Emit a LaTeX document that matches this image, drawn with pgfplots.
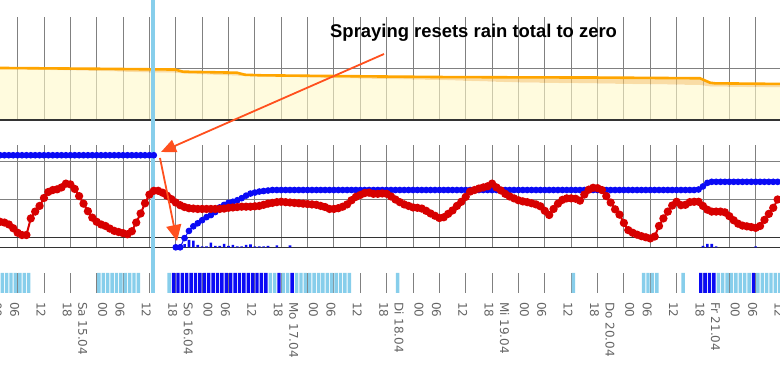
\documentclass[border=0pt]{standalone}
\usepackage{pgfplots}
\pgfplotsset{compat=1.18}
\usetikzlibrary{arrows.meta}
\usepackage{fontspec}
\setmainfont{Liberation Sans}
\newfontfamily\labfont{DejaVu Sans}
\definecolor{gridgray}{RGB}{128,128,128}
\definecolor{axisdark}{RGB}{51,51,51}
\definecolor{orangeline}{RGB}{255,165,0}
\definecolor{bandfill}{RGB}{245,197,105}
\definecolor{yellowfill}{RGB}{255,248,200}
\definecolor{rainblue}{RGB}{10,10,245}
\definecolor{tempred}{RGB}{215,0,0}
\definecolor{skyb}{RGB}{135,206,235}
\definecolor{arrowred}{RGB}{255,80,30}
\definecolor{ticktext}{RGB}{100,100,100}
\pgfplotsset{panel/.style={scale only axis, width=780bp, height=381bp,
  xmin=1.99, xmax=179.54, hide axis, clip=false}}
\tikzset{gridline/.style={gridgray, line width=0.9bp},
  darkline/.style={axisdark, line width=1.3bp},
  lab/.style={rotate=-90, anchor=west, inner sep=0pt, text=ticktext, align=left,
    font=\labfont\fontsize{12}{20}\selectfont, overlay}}
\begin{document}
\begin{tikzpicture}
% ---------- top panel (percent) ----------
\begin{axis}[panel, ymin=-253.40, ymax=116.50]
\path (rel axis cs:0,0) rectangle (rel axis cs:1,1);
\pgfplotsinvokeforeach{6,12,...,174}{\draw[gridline] (axis cs:#1,0) -- (axis cs:#1,100);}
\draw[gridline] (axis cs:1.99,50) -- (axis cs:179.54,50);
\addplot[draw=none, fill=bandfill, fill opacity=0.6] coordinates {(1.99,50.5) (24.75,49.7) (36.13,49.2) (41.82,49.0) (43.64,46.9) (55.94,45.9) (57.76,43.9) (61.17,43.4) (77.11,42.7) (102.15,41.7) (120.36,41.4) (138.57,41.2) (161.33,40.5) (163.61,36.2) (164.75,35.6) (179.54,35.0) (179.54,31.6) (163.61,32.5) (161.33,34.0) (138.57,35.4) (120.36,36.4) (102.15,38.8) (77.11,40.8) (57.76,42.7) (43.64,45.1) (41.82,45.9) (36.13,46.1) (24.75,47.6) (1.99,49.5)};
\addplot[draw=none, fill=yellowfill, fill opacity=0.6] coordinates {(1.99,49.5) (24.75,47.6) (36.13,46.1) (41.82,45.9) (43.64,45.1) (57.76,42.7) (77.11,40.8) (102.15,38.8) (120.36,36.4) (138.57,35.4) (161.33,34.0) (163.61,32.5) (179.54,31.6) (179.54,0) (1.99,0)};
\addplot[orangeline, line width=2.6bp] coordinates {(1.99,50.5) (24.75,49.7) (36.13,49.2) (41.82,49.0) (43.64,46.9) (55.94,45.9) (57.76,43.9) (61.17,43.4) (77.11,42.7) (102.15,41.7) (120.36,41.4) (138.57,41.2) (161.33,40.5) (163.61,36.2) (164.75,35.6) (179.54,35.0)};
\draw[darkline] (axis cs:1.99,0) -- (axis cs:179.54,0);
\end{axis}
% ---------- middle panel: grid + spray line (temperature scale) ----------
\begin{axis}[panel, ymin=-38.016, ymax=62.778]
\path (rel axis cs:0,0) rectangle (rel axis cs:1,1);
\pgfplotsinvokeforeach{6,12,...,174}{\draw[gridline] (axis cs:#1,-2.65) -- (axis cs:#1,24.42);}
\draw[gridline] (axis cs:1.99,10) -- (axis cs:179.54,10);
\draw[gridline] (axis cs:1.99,20) -- (axis cs:179.54,20);
\draw[darkline] (axis cs:1.99,0) -- (axis cs:179.54,0);
\draw[darkline] (axis cs:1.99,-2.65) -- (axis cs:179.54,-2.65);
\draw[skyb, line width=4bp] (axis cs:36.93,-14.735) -- (axis cs:36.93,62.778);
\end{axis}
% ---------- middle panel: rain (mm) ----------
\begin{axis}[panel, ymin=-26.139, ymax=48.348]
\path (rel axis cs:0,0) rectangle (rel axis cs:1,1);
\addplot[ybar, bar width=2.6bp, fill=rainblue, draw=none] coordinates {(44,0.6) (45,1.43) (46,1.31) (47,0.45) (48,0.2) (49,0.2) (50,0.92) (51,0.29) (52,0.29) (53,0.65) (54,0.29) (55,0.45) (56,0.2) (57,0.2) (58,0.45) (59,0.59) (60,0.2) (61,0.2) (62,0.2) (63,0.29) (65,0.39) (68,0.39) (162,0.29) (163,0.65) (164,0.65) (165,0.2) (174,0.2)};
\addplot[rainblue, line width=1bp, mark=*, mark size=2.8bp, mark options={fill=rainblue, draw=rainblue}] coordinates {(2,18) (3,18) (4,18) (5,18) (6,18) (7,18) (8,18) (9,18) (10,18) (11,18) (12,18) (13,18) (14,18) (15,18) (16,18) (17,18) (18,18) (19,18) (20,18) (21,18) (22,18) (23,18) (24,18) (25,18) (26,18) (27,18) (28,18) (29,18) (30,18) (31,18) (32,18) (33,18) (34,18) (35,18) (36,18) (37,18)};
\addplot[rainblue, line width=1bp, mark=*, mark size=2.8bp, mark options={fill=rainblue, draw=rainblue}] coordinates {(42,0) (43,0) (44,1.8) (45,3.2) (46,4.1) (47,4.7) (48,5.3) (49,5.9) (50,6.3) (51,6.9) (52,7.8) (53,8.3) (54,8.7) (55,8.9) (56,9.2) (57,9.6) (58,10.1) (59,10.5) (60,10.7) (61,10.9) (62,11.0) (63,11.1) (64,11.2) (65,11.2) (66,11.2) (67,11.2) (68,11.2) (69,11.2) (70,11.2) (71,11.2) (72,11.2) (73,11.2) (74,11.2) (75,11.2) (76,11.2) (77,11.2) (78,11.2) (79,11.2) (80,11.2) (81,11.2) (82,11.2) (83,11.2) (84,11.2) (85,11.2) (86,11.2) (87,11.2) (88,11.2) (89,11.2) (90,11.2) (91,11.2) (92,11.2) (93,11.2) (94,11.2) (95,11.2) (96,11.2) (97,11.2) (98,11.2) (99,11.2) (100,11.2) (101,11.2) (102,11.2) (103,11.2) (104,11.2) (105,11.2) (106,11.2) (107,11.2) (108,11.2) (109,11.2) (110,11.2) (111,11.2) (112,11.2) (113,11.2) (114,11.2) (115,11.2) (116,11.2) (117,11.2) (118,11.2) (119,11.2) (120,11.2) (121,11.2) (122,11.2) (123,11.2) (124,11.2) (125,11.2) (126,11.2) (127,11.2) (128,11.2) (129,11.2) (130,11.2) (131,11.2) (132,11.2) (133,11.2) (134,11.2) (135,11.2) (136,11.2) (137,11.2) (138,11.2) (139,11.2) (140,11.2) (141,11.2) (142,11.2) (143,11.2) (144,11.2) (145,11.2) (146,11.2) (147,11.2) (148,11.2) (149,11.2) (150,11.2) (151,11.2) (152,11.2) (153,11.2) (154,11.2) (155,11.2) (156,11.2) (157,11.2) (158,11.2) (159,11.2) (160,11.2) (161,11.3) (162,11.9) (163,12.6) (164,12.8) (165,12.8) (166,12.8) (167,12.8) (168,12.8) (169,12.8) (170,12.8) (171,12.8) (172,12.8) (173,12.8) (174,12.8) (175,12.8) (176,12.8) (177,12.8) (178,12.8) (179,12.8)};
\end{axis}
% ---------- middle panel: temperature ----------
\begin{axis}[panel, ymin=-38.016, ymax=62.778]
\path (rel axis cs:0,0) rectangle (rel axis cs:1,1);
\addplot[tempred, line width=2bp, mark=*, mark size=3.1bp, mark options={fill=tempred, draw=tempred}] coordinates {(2,4.1)(3,3.9)(4,3.4)(5,2.4)(6,1.2)(7,0.6)(8,0.6)(9,5.0)(10,6.8)(11,8.3)(12,10.4)(13,12.0)(14,12.5)(15,12.7)(16,13.2)(17,14.2)(18,14.0)(19,12.8)(20,10.9)(21,8.9)(22,6.9)(23,5.2)(24,4.1)(25,3.4)(26,3.0)(27,2.3)(28,1.7)(29,1.4)(30,1.1)(31,0.8)(32,1.6)(33,3.9)(34,6.3)(35,9.0)(36,11.3)(37,12.3)(38,12.3)(39,11.8)(40,11.0)(41,10.1)(42,9.2)(43,8.5)(44,8.0)(45,7.7)(46,7.6)(47,7.5)(48,7.5)(49,7.5)(50,7.5)(51,7.5)(52,7.5)(53,7.6)(54,7.8)(55,7.9)(56,8.0)(57,8.1)(58,8.1)(59,8.1)(60,8.2)(61,8.3)(62,8.6)(63,8.9)(64,9.1)(65,9.3)(66,9.4)(67,9.3)(68,9.2)(69,9.1)(70,9.0)(71,8.9)(72,8.8)(73,8.7)(74,8.6)(75,8.3)(76,8.0)(77,7.5)(78,7.5)(79,7.7)(80,8.1)(81,8.7)(82,9.8)(83,10.7)(84,11.2)(85,11.7)(86,11.8)(87,11.5)(88,11.5)(89,11.6)(90,11.5)(91,10.8)(92,10.0)(93,9.3)(94,8.7)(95,8.3)(96,7.9)(97,7.8)(98,7.6)(99,7.0)(100,6.3)(101,5.7)(102,5.1)(103,5.3)(104,6.2)(105,7.1)(106,8.3)(107,9.4)(108,10.7)(109,12.1)(110,12.5)(111,12.9)(112,13.2)(113,13.5)(114,14.2)(115,13.2)(116,12.4)(117,11.5)(118,10.8)(119,10.3)(120,9.8)(121,9.5)(122,9.3)(123,9.0)(124,8.7)(125,8.2)(126,7.0)(127,5.9)(128,7.5)(129,8.9)(130,9.9)(131,10.3)(132,10.3)(133,10.2)(134,9.7)(135,11.3)(136,12.6)(137,13.1)(138,13.0)(139,12.5)(140,10.9)(141,9.2)(142,7.4)(143,6.0)(144,3.8)(145,1.9)(146,1.2)(147,0.7)(148,0.3)(149,0.0)(150,-0.3)(151,0.2)(152,3.0)(153,5.0)(154,6.8)(155,8.4)(156,9.4)(157,8.5)(158,8.6)(159,9.3)(160,9.4)(161,9.4)(162,8.3)(163,7.3)(164,6.8)(165,6.8)(166,6.8)(167,6.6)(168,5.6)(169,4.5)(170,3.6)(171,3.1)(172,2.9)(173,2.7)(174,2.5)(175,3.0)(176,4.6)(177,6.2)(178,7.8)(179,10.0)};
\end{axis}
% ---------- bottom strip (wet hours) ----------
\begin{axis}[panel, ymin=-4.4, ymax=14.65]
\path (rel axis cs:0,0) rectangle (rel axis cs:1,1);
\pgfplotsinvokeforeach{6,12,...,174}{\draw[gridline] (axis cs:#1,0) -- (axis cs:#1,1);}
\addplot[ybar, bar width=3.4bp, fill=skyb, draw=none] coordinates {(2.5,1)(3.5,1)(4.5,1)(5.5,1)(6.5,1)(7.5,1)(8.5,1)(24.5,1)(25.5,1)(26.5,1)(27.5,1)(28.5,1)(29.5,1)(30.5,1)(31.5,1)(32.5,1)(33.5,1)(40.5,1)(63.5,1)(64.5,1)(66.5,1)(67.5,1)(69.5,1)(70.5,1)(71.5,1)(72.5,1)(73.5,1)(74.5,1)(75.5,1)(76.5,1)(77.5,1)(78.5,1)(79.5,1)(80.5,1)(81.5,1)(92.5,1)(132.5,1)(148.5,1)(149.5,1)(150.5,1)(151.5,1)(157.5,1)(165.5,1)(166.5,1)(167.5,1)(168.5,1)(169.5,1)(170.5,1)(171.5,1)(172.5,1)(174.5,1)(175.5,1)(176.5,1)(177.5,1)(178.5,1)(179.5,1)};
\addplot[ybar, bar width=3.4bp, fill=rainblue, draw=none] coordinates {(41.5,1)(42.5,1)(43.5,1)(44.5,1)(45.5,1)(46.5,1)(47.5,1)(48.5,1)(49.5,1)(50.5,1)(51.5,1)(52.5,1)(53.5,1)(54.5,1)(55.5,1)(56.5,1)(57.5,1)(58.5,1)(59.5,1)(60.5,1)(61.5,1)(62.5,1)(65.5,1)(68.5,1)(161.5,1)(162.5,1)(163.5,1)(164.5,1)(173.5,1)};
\pgfplotsinvokeforeach{6,30,54,78,102,126,150,174}{\node[lab] at (axis cs:#1-0.68,-0.45) {06};}
\pgfplotsinvokeforeach{12,36,60,84,108,132,156,180}{\node[lab] at (axis cs:#1-0.68,-0.45) {12};}
\pgfplotsinvokeforeach{18,42,66,90,114,138,162}{\node[lab] at (axis cs:#1-0.68,-0.45) {18};}
\node[lab] at (axis cs:-0.91,-0.45) {00\\Fr 14.04};
\node[lab] at (axis cs:23.09,-0.45) {00\\Sa 15.04};
\node[lab] at (axis cs:47.09,-0.45) {00\\So 16.04};
\node[lab] at (axis cs:71.09,-0.45) {00\\Mo 17.04};
\node[lab] at (axis cs:95.09,-0.45) {00\\Di 18.04};
\node[lab] at (axis cs:119.09,-0.45) {00\\Mi 19.04};
\node[lab] at (axis cs:143.09,-0.45) {00\\Do 20.04};
\node[lab] at (axis cs:167.09,-0.45) {00\\Fr 21.04};
\end{axis}
% ---------- annotation ----------
\draw[arrowred, line width=1.8bp, -{Triangle[length=15bp,width=13bp]}] (384bp,327bp) -- (161bp,229bp);
\draw[arrowred, line width=1.8bp, -{Triangle[length=16bp,width=15bp]}] (160bp,223bp) -- (177bp,140bp);
\node[anchor=base west, inner sep=0, font=\bfseries\fontsize{18.5}{22}\selectfont] at (330bp,343.8bp) {Spraying resets rain total to zero};
\pgfresetboundingbox
\useasboundingbox (0bp,0bp) rectangle (780bp,381bp);
\end{tikzpicture}
\end{document}
